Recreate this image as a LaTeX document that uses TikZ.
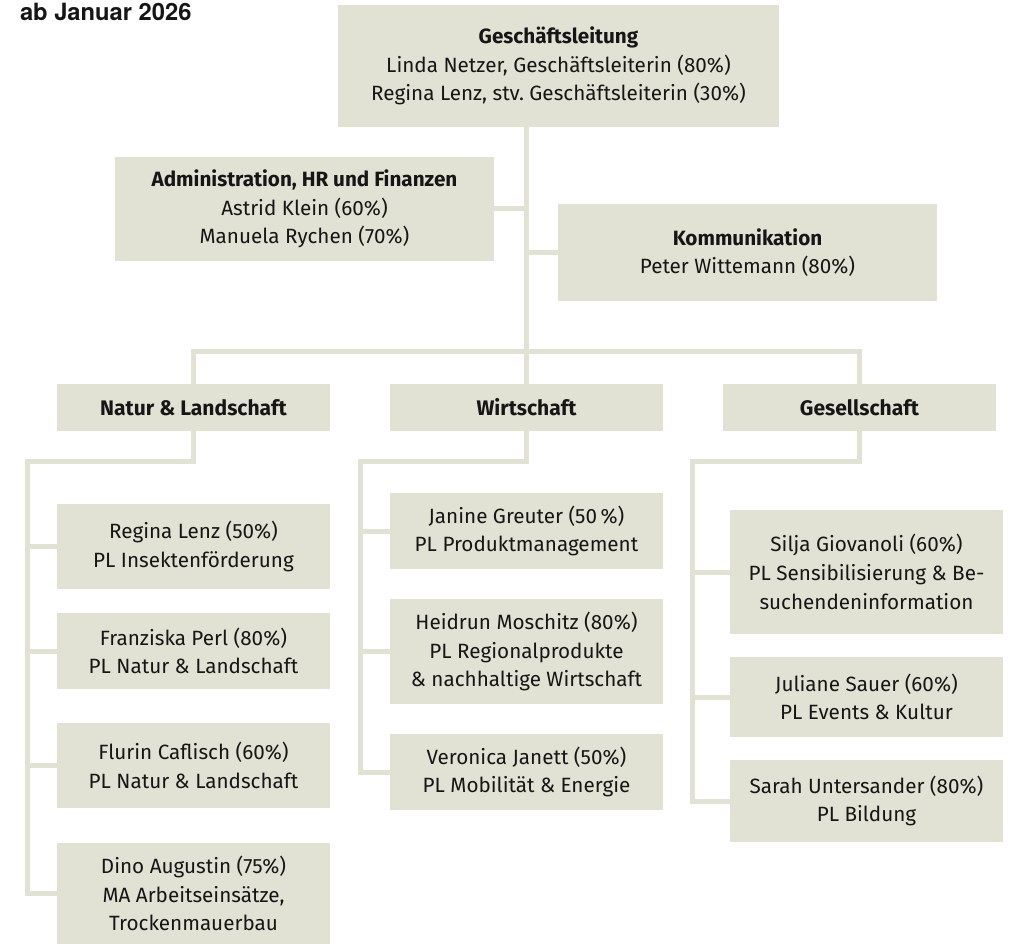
\documentclass[tikz,border=0pt]{standalone}
\usepackage{fontspec}
\setmainfont{Fira Sans}
\newfontfamily\titlefont{TeX Gyre Heros}
\definecolor{boxgrey}{HTML}{E1E1D4}
\definecolor{inkblack}{HTML}{161616}
\tikzstyle{link} = [draw=boxgrey, line width=3.75pt, line join=miter]

\begin{document}
\begin{tikzpicture}[
  x=0.75pt, y=-0.75pt,
  every node/.style={inner sep=0pt, outer sep=0pt, text=inkblack, align=center, font=\fontsize{15.5}{21.5}\selectfont},
  orgbox/.style={rectangle, fill=boxgrey, minimum width=284.25pt},
  head/.style={rectangle, fill=boxgrey, minimum width=204.75pt, minimum height=35.25pt, font=\bfseries\fontsize{15.8}{21.5}\selectfont},
  leaf/.style={rectangle, fill=boxgrey, minimum width=204.75pt}
]
\useasboundingbox (0,0) rectangle (1009,944);

% Title
\node[anchor=base west, font={\titlefont\bfseries\fontsize{17.8}{20}\selectfont}] (title) at (20,20.5) {ab Januar 2026};

% Management and staff units
\node[orgbox, minimum width=330.75pt, minimum height=91.5pt] (gl) at (558.5,66)
  {\textbf{Geschäftsleitung}\\ Linda Netzer, Geschäftsleiterin (80\%)\\ Regina Lenz, stv.\ Geschäftsleiterin (30\%)};
\node[orgbox, minimum height=78pt] (admin) at (304.5,209)
  {\textbf{Administration, HR und Finanzen}\\ Astrid Klein (60\%)\\ Manuela Rychen (70\%)};
\node[orgbox, minimum height=72.75pt] (komm) at (747.5,252.5)
  {\textbf{Kommunikation}\\ Peter Wittemann (80\%)};

% Departments
\node[head] (natur) at (193.5,407.5) {Natur \& Landschaft};
\node[head] (wirt) at (526.5,407.5) {Wirtschaft};
\node[head] (gesell) at (859.5,407.5) {Gesellschaft};

% Natur & Landschaft
\node[leaf, minimum height=63.75pt] (regina) at (193.5,546.5) {Regina Lenz (50\%)\\ PL Insektenförderung};
\node[leaf, minimum height=57pt] (franziska) at (193.5,651) {Franziska Perl (80\%)\\ PL Natur \& Landschaft};
\node[leaf, minimum height=63.75pt] (flurin) at (193.5,765.5) {Flurin Caflisch (60\%)\\ PL Natur \& Landschaft};
\node[leaf, minimum height=75.75pt] (dino) at (193.5,893.5) {Dino Augustin (75\%)\\ MA Arbeitseinsätze,\\ Trockenmauerbau};

% Wirtschaft
\node[leaf, minimum height=57pt] (janine) at (526.5,531) {Janine Greuter (50\,\%)\\ PL Produktmanagement};
\node[leaf, minimum height=78.75pt] (heidrun) at (526.5,651.5) {Heidrun Moschitz (80\%)\\ PL Regionalprodukte\\ \& nachhaltige Wirtschaft};
\node[leaf, minimum height=57pt] (veronica) at (526.5,772) {Veronica Janett (50\%)\\ PL Mobilität \& Energie};

% Gesellschaft
\node[leaf, minimum height=93pt] (silja) at (866.5,572) {Silja Giovanoli (60\%)\\ PL Sensibilisierung \& Be-\\ suchendeninformation};
\node[leaf, minimum height=60pt] (juliane) at (866.5,697) {Juliane Sauer (60\%)\\ PL Events \& Kultur};
\node[leaf, minimum height=61.5pt] (sarah) at (866.5,801) {Sarah Untersander (80\%)\\ PL Bildung};

% Trunk and staff connectors
\draw[link] (gl.south -| wirt.north) -- (wirt.north);
\draw[link] (admin.east) -- (admin.east -| wirt.north);
\draw[link] (komm.west) -- (komm.west -| wirt.north);
\coordinate (bar) at (526.5,352);
\draw[link] (natur.north) |- (bar) -| (gesell.north);

% Department branches
\coordinate (nturn) at (27.5,461.5);
\coordinate (wturn) at (360.5,461.5);
\coordinate (gturn) at (692.5,461.5);
\draw[link] (natur.south) |- (nturn) |- (dino.west);
\foreach \n in {regina, franziska, flurin} \draw[link] (nturn) |- (\n.west);
\draw[link] (wirt.south) |- (wturn) |- (veronica.west);
\foreach \n in {janine, heidrun} \draw[link] (wturn) |- (\n.west);
\draw[link] (gesell.south) |- (gturn) |- (sarah.west);
\foreach \n in {silja, juliane} \draw[link] (gturn) |- (\n.west);
\end{tikzpicture}
\end{document}
